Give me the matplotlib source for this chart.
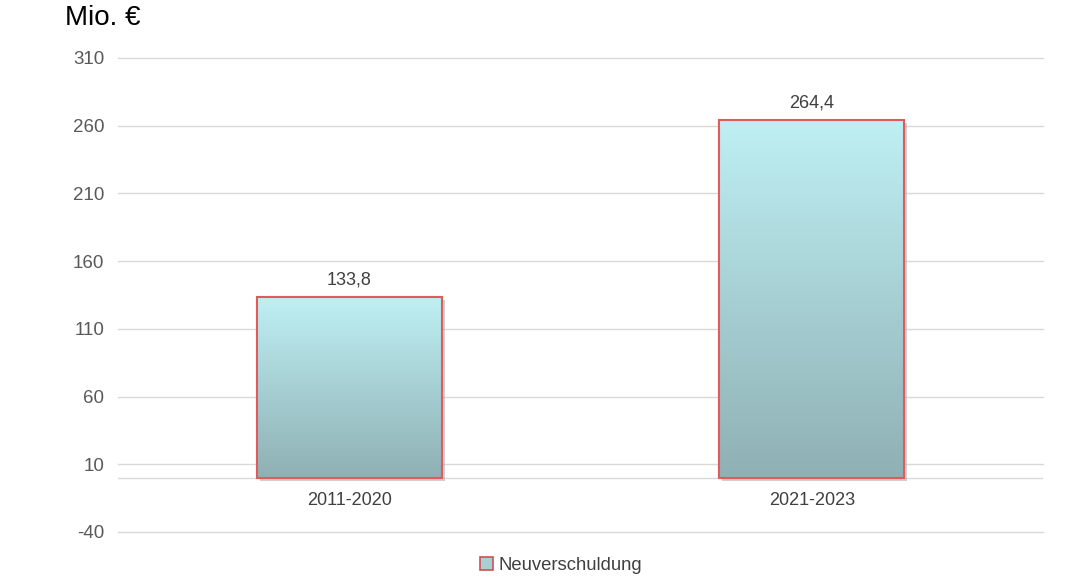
import matplotlib
matplotlib.use("Agg")
import matplotlib.pyplot as plt
import numpy as np
from matplotlib.patches import Rectangle, Patch
from matplotlib.colors import LinearSegmentedColormap

categories = ["2011-2020", "2021-2023"]
values = [133.8, 264.4]
labels = ["133,8", "264,4"]
yticks = [-40, 10, 60, 110, 160, 210, 260, 310]
series_name = "Neuverschuldung"

plt.rcParams['font.family'] = ['Liberation Sans', 'DejaVu Sans']

fig = plt.figure(figsize=(10.8, 5.87), dpi=100)
ax = fig.add_axes([118/1080, 1 - 532/587, (1043-118)/1080, (532-58)/587])
ax.set_xlim(-0.5, 1.5)
ax.set_ylim(-40, 310)
ax.set_yticks(yticks)
ax.set_yticklabels([str(t) for t in yticks])
ax.set_xticks([])
ax.tick_params(axis='y', length=0, labelsize=13.5, colors='#595959', pad=10)
for s in ax.spines.values():
    s.set_visible(False)
for t in yticks:
    ax.axhline(t, color='#d9d9d9', linewidth=1, zorder=1, clip_on=False)
ax.axhline(0, color='#d9d9d9', linewidth=1, zorder=1)

cmap = LinearSegmentedColormap.from_list('g', [(0, '#8fb0b4'), (0.55, '#a9d3d7'), (1, '#bff0f4')])
grad = np.linspace(0, 1, 256).reshape(-1, 1)
width = 0.4
x = np.arange(len(categories))
for xi, v, lab, cat in zip(x, values, labels, categories):
    sh = Rectangle((xi - width/2 + 0.006, -2.5), width, v, facecolor='#b0b0b0',
                   edgecolor='none', alpha=0.6, zorder=2)
    ax.add_patch(sh)
    im = ax.imshow(grad, cmap=cmap, origin='lower', aspect='auto',
                   extent=(xi - width/2, xi + width/2, 0, v), zorder=3)
    rect = Rectangle((xi - width/2, 0), width, v, facecolor='none',
                     edgecolor='#e05c5c', linewidth=1.5, zorder=4)
    ax.add_patch(rect)
    im.set_clip_path(rect)
    ax.text(xi, v + 6, lab, ha='center', va='bottom', fontsize=13, color='#404040')
    ax.text(xi, -16.5, cat, ha='center', va='center', fontsize=13, color='#404040')

ax.set_xlim(-0.5, 1.5)
ax.set_ylim(-40, 310)

fig.text(65/1080, 1 - 18/587, "Mio. €", fontsize=20, color='black', ha='left', va='center')

h = Patch(facecolor='#a8d0d4', edgecolor='#d05050', linewidth=1.2, label=series_name)
fig.legend(handles=[h], loc='center', bbox_to_anchor=(561/1080, 1 - 565/587), frameon=False,
           fontsize=13.3, handlelength=0.7, handleheight=0.7, handletextpad=0.3,
           labelcolor='#404040')

fig.savefig("out.png", dpi=100)
